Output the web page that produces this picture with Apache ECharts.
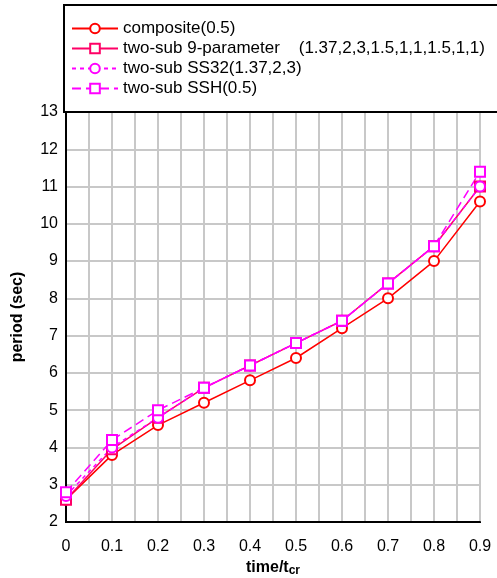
<!DOCTYPE html>
<html>
<head>
<meta charset="utf-8">
<script src="https://cdn.jsdelivr.net/npm/echarts@6/dist/echarts.min.js"></script>
<style>
html, body { margin: 0; padding: 0; background: #fff; }
#main { width: 497px; height: 578px; }
</style>
</head>
<body>
<div id="main"></div>
<script>
// time/tcr
var times = [0, 0.1, 0.2, 0.3, 0.4, 0.5, 0.6, 0.7, 0.8, 0.9];
var composite = [2.6, 3.8, 4.6, 5.2, 5.8, 6.4, 7.2, 8.0, 9.0, 10.6];
var nineParam = [2.6, 3.95, 4.8, 5.6, 6.2, 6.8, 7.4, 8.4, 9.4, 11.0];
var ss32 = [2.7, 4.0, 4.8, 5.6, 6.2, 6.8, 7.4, 8.4, 9.4, 11.0];
var ssh = [2.8, 4.2, 5.0, 5.6, 6.2, 6.8, 7.4, 8.4, 9.4, 11.4];
var names = [
  'composite(0.5)',
  'two-sub 9-parameter    (1.37,2,3,1.5,1,1,1.5,1,1)',
  'two-sub SS32(1.37,2,3)',
  'two-sub SSH(0.5)'
];

function pairs(ys) {
  return times.map(function (t, i) { return [t, ys[i]]; });
}

var font = 'Liberation Sans, Arial, sans-serif';
var myChart = echarts.init(document.getElementById('main'));

function line(name, ys, color, symbol, type) {
  return {
    name: name,
    type: 'line',
    data: pairs(ys),
    symbol: symbol,
    symbolSize: 10,
    color: color,
    lineStyle: { color: color, width: 1.5, type: type },
    itemStyle: { color: color, borderWidth: 1.5 }
  };
}

var option = {
  backgroundColor: '#fff',
  animation: false,
  textStyle: { fontFamily: font },
  graphic: [{
    type: 'rect',
    shape: { x: 64, y: 5, width: 460, height: 107 },
    style: { fill: 'none', stroke: '#000', lineWidth: 2 },
    z: 1
  }],
  legend: {
    orient: 'vertical',
    left: 66,
    top: 15,
    itemWidth: 46,
    itemHeight: 12,
    itemGap: 3,
    data: names,
    textStyle: { fontFamily: font, fontSize: 17, color: '#000' }
  },
  grid: {
    left: 66,
    right: 17,
    top: 112,
    bottom: 56,
    outerBoundsMode: 'none',
    show: true,
    borderColor: '#000',
    borderWidth: 2
  },
  xAxis: {
    type: 'value',
    min: 0,
    max: 0.9,
    interval: 0.1,
    name: 'time/t{sub|cr}',
    nameLocation: 'middle',
    nameGap: 36,
    nameTextStyle: {
      fontFamily: font, fontSize: 16, fontWeight: 'bold', color: '#000',
      rich: { sub: { fontFamily: font, fontSize: 12, fontWeight: 'bold', color: '#000', verticalAlign: 'bottom', padding: [6, 0, 0, 0] } }
    },
    axisLine: { lineStyle: { color: '#000', width: 2 } },
    axisTick: { show: false },
    axisLabel: { fontFamily: font, fontSize: 16, color: '#000', margin: 17, formatter: function (v) { return String(+v.toFixed(1)); } },
    splitLine: { lineStyle: { color: '#c8c8c8', width: 2 } },
    minorTick: { show: false, splitNumber: 2 },
    minorSplitLine: { show: true, lineStyle: { color: '#c8c8c8', width: 2 } }
  },
  yAxis: {
    type: 'value',
    min: 2,
    max: 13,
    interval: 1,
    name: 'period (sec)',
    nameLocation: 'middle',
    nameGap: 40,
    nameTextStyle: { fontFamily: font, fontSize: 16, fontWeight: 'bold', color: '#000' },
    axisLine: { lineStyle: { color: '#000', width: 2 } },
    axisTick: { show: false },
    axisLabel: { fontFamily: font, fontSize: 16, color: '#000', margin: 8 },
    splitLine: { lineStyle: { color: '#c8c8c8', width: 2 } }
  },
  series: [
    line(names[0], composite, '#ff0000', 'emptyCircle', 'solid'),
    line(names[1], nineParam, '#ff0066', 'emptyRect', 'solid'),
    line(names[2], ss32, '#ff00ff', 'emptyCircle', [4, 4]),
    line(names[3], ssh, '#ff00ff', 'emptyRect', [9, 5])
  ]
};

myChart.setOption(option);
window.onresize = function () { myChart.resize(); };
</script>
</body>
</html>
